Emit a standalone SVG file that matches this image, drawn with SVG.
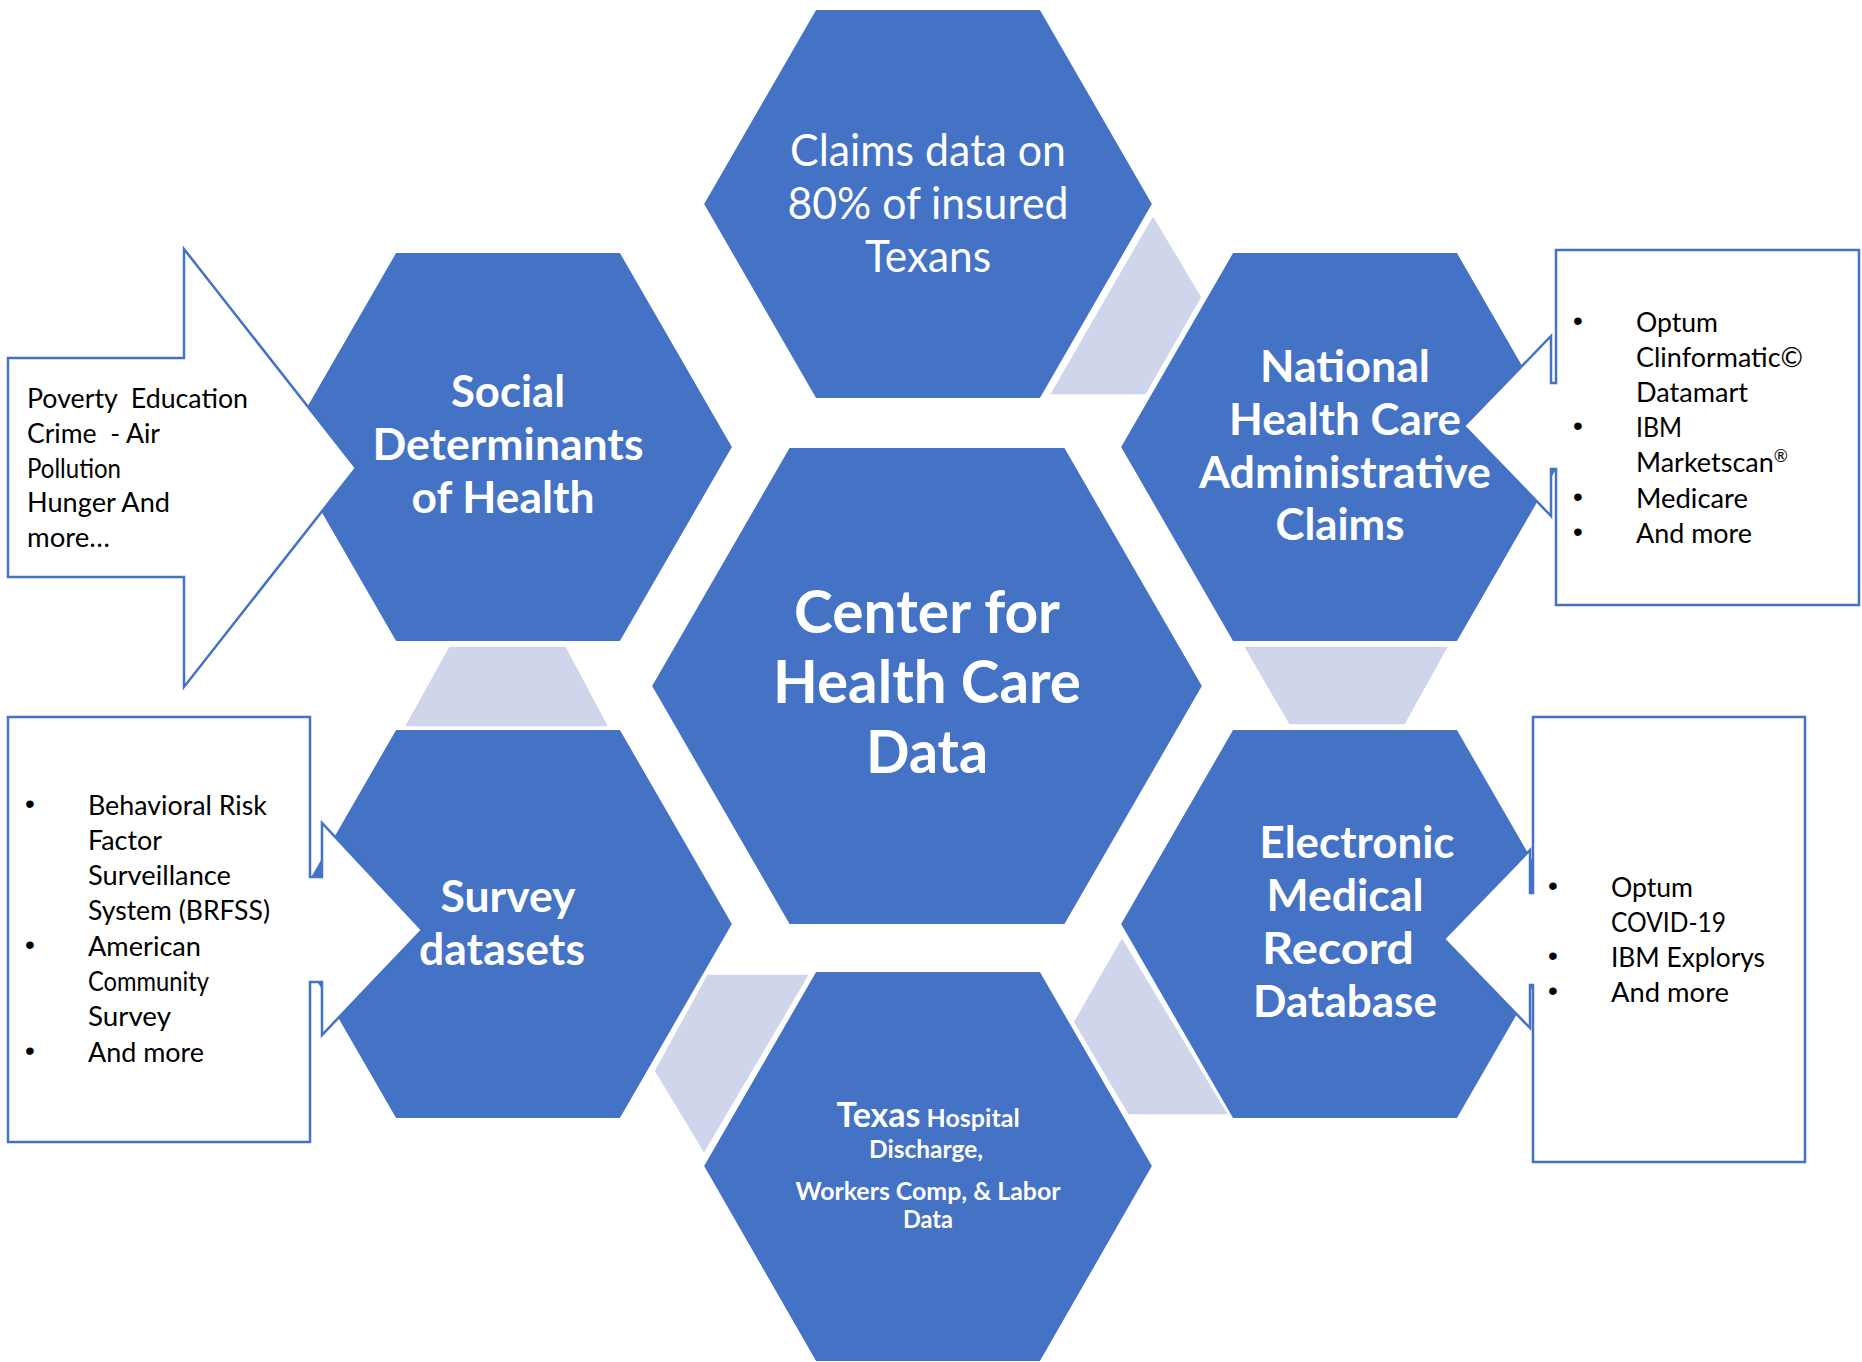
<svg xmlns="http://www.w3.org/2000/svg" width="1862" height="1362" viewBox="0 0 1862 1362">
<style>
.hex{fill:#4472C4;stroke:#fff;stroke-width:2}
.lt{fill:#CFD5EA;stroke:#fff;stroke-width:1.5}
.co{fill:#fff;stroke:#4472C4;stroke-width:2.5;stroke-linejoin:miter}
.t{font-family:Lato,"Liberation Sans",sans-serif;fill:#fff;text-anchor:middle}
.b{font-weight:700;font-size:44px}
.l{font-weight:400;font-size:45px}
.c{font-family:Lato,"Liberation Sans",sans-serif;font-size:27px;fill:#000;white-space:pre}
.bu{font-family:"Liberation Sans",sans-serif;font-size:28px;fill:#000}
</style>
<rect width="1862" height="1362" fill="#fff"/>
<g id="connectors">
<polygon class="lt" points="1153,215 1202,297 1146,395 1049,395"/>
<polygon class="lt" points="1243,646 1449,646 1405,725 1289,725"/>
<polygon class="lt" points="1122,937 1229,1115 1128,1115 1073,1022"/>
<polygon class="lt" points="707,974 810,974 704,1154 654,1071"/>
<polygon class="lt" points="449,646 566,646 609,727 404,727"/>
</g>
<g id="node-claims">
<polygon class="hex" points="703,204 815.5,9 1040.5,9 1153,204 1040.5,399 815.5,399"/>
<text class="t l" x="928" y="166" textLength="276" lengthAdjust="spacingAndGlyphs">Claims data on</text>
<text class="t l" x="928" y="219" textLength="281" lengthAdjust="spacingAndGlyphs">80% of insured</text>
<text class="t l" x="928" y="272" textLength="126" lengthAdjust="spacingAndGlyphs">Texans</text>
</g>
<g id="node-social">
<polygon class="hex" points="283,447 395.5,252 620.5,252 733,447 620.5,642 395.5,642"/>
<text class="t b" x="508" y="407" textLength="114" lengthAdjust="spacingAndGlyphs">Social</text>
<text class="t b" x="508" y="460" textLength="271" lengthAdjust="spacingAndGlyphs">Determinants</text>
<text class="t b" x="503" y="513" textLength="183" lengthAdjust="spacingAndGlyphs">of Health</text>
</g>
<g id="node-national">
<polygon class="hex" points="1120,447 1232.5,252 1457.5,252 1570,447 1457.5,642 1232.5,642"/>
<text class="t b" x="1345" y="382" textLength="170" lengthAdjust="spacingAndGlyphs">National</text>
<text class="t b" x="1345" y="435" textLength="232" lengthAdjust="spacingAndGlyphs">Health Care</text>
<text class="t b" x="1345" y="488" textLength="292" lengthAdjust="spacingAndGlyphs">Administrative</text>
<text class="t b" x="1340" y="540" textLength="129" lengthAdjust="spacingAndGlyphs">Claims</text>
</g>
<g id="node-survey">
<polygon class="hex" points="283,924 395.5,729 620.5,729 733,924 620.5,1119 395.5,1119"/>
<text class="t b" x="508" y="912" textLength="135" lengthAdjust="spacingAndGlyphs">Survey</text>
<text class="t b" x="502" y="965" textLength="166" lengthAdjust="spacingAndGlyphs">datasets</text>
</g>
<g id="node-emr">
<polygon class="hex" points="1120,924 1232.5,729 1457.5,729 1570,924 1457.5,1119 1232.5,1119"/>
<text class="t b" x="1357" y="858" textLength="195" lengthAdjust="spacingAndGlyphs">Electronic</text>
<text class="t b" x="1345" y="911" textLength="157" lengthAdjust="spacingAndGlyphs">Medical</text>
<text class="t b" x="1338" y="964" textLength="152" lengthAdjust="spacingAndGlyphs">Record</text>
<text class="t b" x="1345" y="1017" textLength="184" lengthAdjust="spacingAndGlyphs">Database</text>
</g>
<g id="node-texas">
<polygon class="hex" points="703,1166 815.5,971 1040.5,971 1153,1166 1040.5,1362 815.5,1362"/>
<text class="t" x="928" y="1127" font-weight="700"><tspan font-size="34">Texas</tspan><tspan font-size="25"> Hospital</tspan></text>
<text class="t" x="926" y="1158" font-weight="700" font-size="25" textLength="114" lengthAdjust="spacingAndGlyphs">Discharge,</text>
<text class="t" x="928" y="1200" font-weight="700" font-size="25" textLength="265" lengthAdjust="spacingAndGlyphs">Workers Comp, &amp; Labor</text>
<text class="t" x="928" y="1228" font-weight="700" font-size="25" textLength="50" lengthAdjust="spacingAndGlyphs">Data</text>
</g>
<g id="node-center">
<polygon class="hex" points="651,686 789,447 1065,447 1203,686 1065,925 789,925"/>
<text class="t" x="927" y="633" font-weight="700" font-size="59" textLength="266" lengthAdjust="spacingAndGlyphs">Center for</text>
<text class="t" x="927" y="703" font-weight="700" font-size="59" textLength="308" lengthAdjust="spacingAndGlyphs">Health Care</text>
<text class="t" x="927" y="773" font-weight="700" font-size="59" textLength="122" lengthAdjust="spacingAndGlyphs">Data</text>
</g>
<g id="callout-sdoh">
<polygon class="co" points="8,358 184,358 184,249 356,468 184,687 184,577 8,577"/>
<text class="c" x="27" y="408" textLength="221" lengthAdjust="spacingAndGlyphs">Poverty  Education</text>
<text class="c" x="27" y="443" textLength="133" lengthAdjust="spacingAndGlyphs">Crime  - Air</text>
<text class="c" x="27" y="478" textLength="94" lengthAdjust="spacingAndGlyphs">Pollution</text>
<text class="c" x="27" y="512" textLength="143" lengthAdjust="spacingAndGlyphs">Hunger And</text>
<text class="c" x="27" y="547" textLength="83" lengthAdjust="spacingAndGlyphs">more…</text>
</g>
<g id="callout-claims">
<polygon class="co" points="1556,250 1859,250 1859,605 1556,605 1556,469 1551,469 1551,516 1464,426 1551,336 1551,383 1556,383"/>
<text class="bu" x="1573" y="330">•</text>
<text class="c" x="1636" y="332" textLength="82" lengthAdjust="spacingAndGlyphs">Optum</text>
<text class="c" x="1636" y="367" textLength="167" lengthAdjust="spacingAndGlyphs">Clinformatic©</text>
<text class="c" x="1636" y="402" textLength="112" lengthAdjust="spacingAndGlyphs">Datamart</text>
<text class="bu" x="1573" y="435">•</text>
<text class="c" x="1636" y="437" textLength="46" lengthAdjust="spacingAndGlyphs">IBM</text>
<text class="c" x="1636" y="472">Marketscan<tspan font-size="17" dy="-10">®</tspan></text>
<text class="bu" x="1573" y="506">•</text>
<text class="c" x="1636" y="508" textLength="112" lengthAdjust="spacingAndGlyphs">Medicare</text>
<text class="bu" x="1573" y="541">•</text>
<text class="c" x="1636" y="543" textLength="116" lengthAdjust="spacingAndGlyphs">And more</text>
</g>
<g id="callout-survey">
<polygon class="co" points="8,717 310,717 310,877 322,877 322,823 422,930 322,1035 322,982 310,982 310,1142 8,1142"/>
<text class="bu" x="25" y="813">•</text>
<text class="c" x="88" y="815" textLength="179" lengthAdjust="spacingAndGlyphs">Behavioral Risk</text>
<text class="c" x="88" y="850" textLength="74" lengthAdjust="spacingAndGlyphs">Factor</text>
<text class="c" x="88" y="885" textLength="143" lengthAdjust="spacingAndGlyphs">Surveillance</text>
<text class="c" x="88" y="920" textLength="182" lengthAdjust="spacingAndGlyphs">System (BRFSS)</text>
<text class="bu" x="25" y="954">•</text>
<text class="c" x="88" y="956" textLength="113" lengthAdjust="spacingAndGlyphs">American</text>
<text class="c" x="88" y="991" textLength="121" lengthAdjust="spacingAndGlyphs">Community</text>
<text class="c" x="88" y="1026" textLength="83" lengthAdjust="spacingAndGlyphs">Survey</text>
<text class="bu" x="25" y="1060">•</text>
<text class="c" x="88" y="1062" textLength="116" lengthAdjust="spacingAndGlyphs">And more</text>
</g>
<g id="callout-emr">
<polygon class="co" points="1533,717 1805,717 1805,1162 1533,1162 1533,985 1530,985 1530,1028 1444,939 1530,850 1530,893 1533,893"/>
<text class="bu" x="1548" y="895">•</text>
<text class="c" x="1611" y="897" textLength="82" lengthAdjust="spacingAndGlyphs">Optum</text>
<text class="c" x="1611" y="932" textLength="115" lengthAdjust="spacingAndGlyphs">COVID-19</text>
<text class="bu" x="1548" y="965">•</text>
<text class="c" x="1611" y="967" textLength="154" lengthAdjust="spacingAndGlyphs">IBM Explorys</text>
<text class="bu" x="1548" y="1000">•</text>
<text class="c" x="1611" y="1002" textLength="118" lengthAdjust="spacingAndGlyphs">And more</text>
</g>
</svg>
